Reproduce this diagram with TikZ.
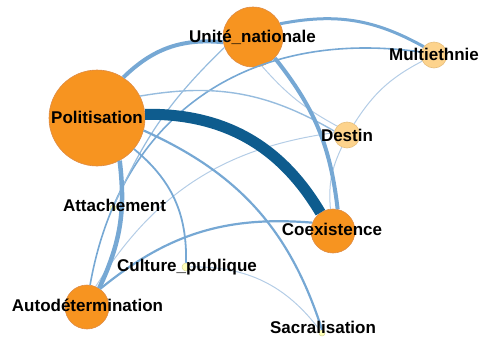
\documentclass[tikz,border=0pt]{standalone}
\usepackage{fontspec}
\setmainfont{Liberation Sans}
\definecolor{dk}{RGB}{14,92,142}
\definecolor{md}{RGB}{118,168,212}
\definecolor{lt}{RGB}{150,188,222}
\definecolor{pl}{RGB}{180,205,230}
\definecolor{org}{RGB}{247,148,32}
\definecolor{orgb}{RGB}{222,140,70}
\definecolor{pale}{RGB}{253,211,140}
\definecolor{paleb}{RGB}{230,190,125}
\definecolor{tny}{RGB}{255,255,185}
\definecolor{tnyb}{RGB}{215,215,150}
\tikzset{
 vtx/.style={circle,inner sep=0pt,minimum size=#1,draw=orgb,fill=org,line width=0.6pt},
 vtxl/.style={circle,inner sep=0pt,minimum size=#1,draw=paleb,fill=pale,line width=0.6pt},
 vtxs/.style={circle,inner sep=0pt,minimum size=#1,draw=tnyb,fill=tny,line width=0.5pt},
 lab/.style={font=\fontsize{17}{20}\selectfont\bfseries,anchor=base,inner sep=0pt,text=black},
 edg/.style={line width=#1},
}
\begin{document}
\begin{tikzpicture}[x=1pt,y=-1pt]
\useasboundingbox (0,0) rectangle (483,341);
% vertices
\node[vtx=96pt] (P) at (97,118) {};
\node[vtx=60pt] (U) at (253,37) {};
\node[vtxl=26pt] (M) at (434,55) {};
\node[vtxl=26pt] (D) at (347,135) {};
\node[vtx=44pt] (C) at (333,231) {};
\node[vtx=44pt] (A) at (87,307) {};
\node[vtxs=6pt] (At) at (113,208) {};
\node[vtxs=8pt] (CP) at (186,267) {};
\node[vtxs=6pt] (S) at (322,333) {};
% edges
\draw[edg=1.6pt,md] (A.82) to[out=80,in=172,looseness=1.1] (M.167);
\draw[edg=1.0pt,pl] (A.67) to[bend left=25] (D.170);
\draw[edg=2.2pt,md] (A.54) to[bend left=22] (C.158);
\draw[edg=1.2pt,lt] (U.200) to[bend right=11] (At);
\draw[edg=1.0pt,pl] (U.-73) to[bend right=10] (D.138);
\draw[edg=1.0pt,pl] (D) to[bend left=15] (M);
\draw[edg=1.0pt,pl] (C) to[bend left=15] (D);
\draw[edg=1.0pt,pl] (CP) to[bend left=27] (S);
\draw[edg=1.4pt,lt] (P.27) to[bend left=20] (D.163);
\draw[edg=2.2pt,md] (P.-15) to[bend left=24] (S.90);
\draw[edg=1.8pt,md] (P.-40) to[bend left=26] (CP.90);
\draw[edg=3pt,md] (U.26) to[bend left=20] (M.141);
\draw[edg=4pt,md] (U.-44) to[bend left=16] (C.78);
\draw[edg=4pt,md] (P.57) to[bend left=25] (U.190);
\draw[edg=4.5pt,md] (P.-62) to[bend left=16] (A.57);
\draw[edg=11pt,dk] (P) to[bend left=30] (C);
% labels
\node[lab] (lP) at (97,123) {Politisation};
\node[lab] (lU) at (252.5,42) {Unité\_nationale};
\node[lab] (lM) at (434,60) {Multiethnie};
\node[lab] (lD) at (347,141) {Destin};
\node[lab] (lC) at (332,235) {Coexistence};
\node[lab] (lA) at (87.5,311) {Autodétermination};
\node[lab] (lAt) at (114.5,211) {Attachement};
\node[lab] (lCP) at (187,271) {Culture\_publique};
\node[lab] (lS) at (323,333) {Sacralisation};
\end{tikzpicture}
\end{document}
